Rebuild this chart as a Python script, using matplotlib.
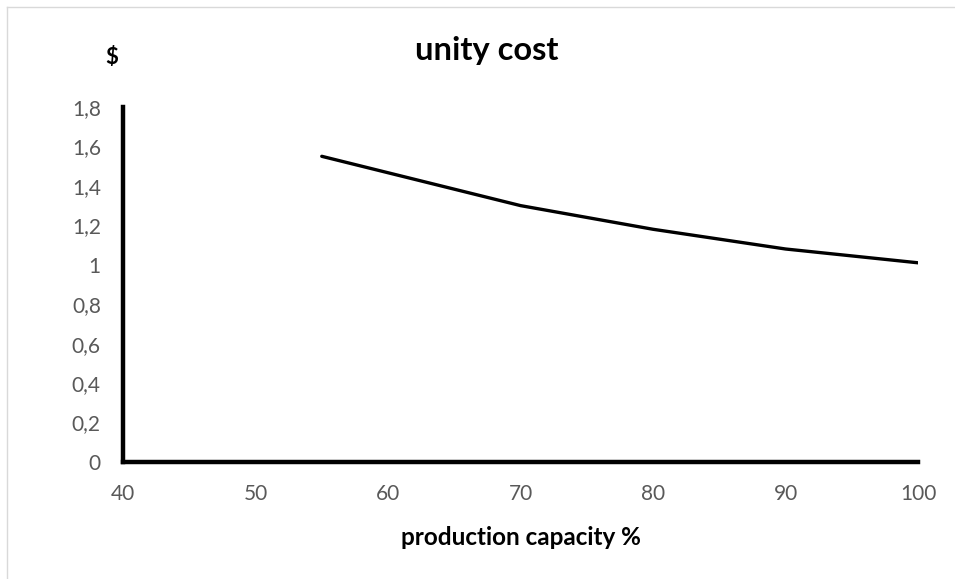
import matplotlib
matplotlib.use("Agg")
import matplotlib.pyplot as plt
from matplotlib.ticker import FuncFormatter
from matplotlib.lines import Line2D

capacity = [55, 70, 80, 90, 100]
unit_cost = [1.55, 1.30, 1.18, 1.08, 1.01]
x_ticks = [40, 50, 60, 70, 80, 90, 100]
y_ticks = [0, 0.2, 0.4, 0.6, 0.8, 1.0, 1.2, 1.4, 1.6, 1.8]

plt.rcParams['font.family'] = ['Lato', 'DejaVu Sans']

fig = plt.figure(figsize=(9.55, 5.79), dpi=100)
ax = fig.add_axes([0.1288, 0.2021, 0.9613 - 0.1288, 0.8152 - 0.2021])

ax.plot(capacity, unit_cost, color='black', lw=2.4, solid_capstyle='round')

ax.set_xlim(40, 100)
ax.set_ylim(0, 1.8)
ax.set_xticks(x_ticks)
ax.set_yticks(y_ticks)

def fmt(v, pos):
    s = f"{v:.1f}".rstrip('0').rstrip('.')
    return s.replace('.', ',')

ax.yaxis.set_major_formatter(FuncFormatter(fmt))
ax.xaxis.set_major_formatter(FuncFormatter(lambda v, p: f"{int(v)}"))
ax.tick_params(axis='both', length=0, labelsize=15, labelcolor='#595959')
ax.tick_params(axis='y', pad=16)
ax.tick_params(axis='x', pad=16)

for s in ['top', 'right']:
    ax.spines[s].set_visible(False)
for s in ['left', 'bottom']:
    ax.spines[s].set_linewidth(3.2)
    ax.spines[s].set_color('black')

ax.set_xlabel('production capacity %', fontsize=17.5, fontweight='bold', labelpad=16)
fig.text(0.51, 0.912, 'unity cost', fontsize=23.5, fontweight='bold', ha='center', va='center')
fig.text(0.117, 0.90, '$', fontsize=16, fontweight='bold', ha='center', va='center')

# light gray border of the chart area (top and left edges visible)
fig.add_artist(Line2D([7/955, 1.0], [1 - 7/579, 1 - 7/579], transform=fig.transFigure, color='#d9d9d9', lw=1))
fig.add_artist(Line2D([7/955, 7/955], [0, 1 - 7/579], transform=fig.transFigure, color='#d9d9d9', lw=1))

fig.savefig('out.png', dpi=100, facecolor='white')
